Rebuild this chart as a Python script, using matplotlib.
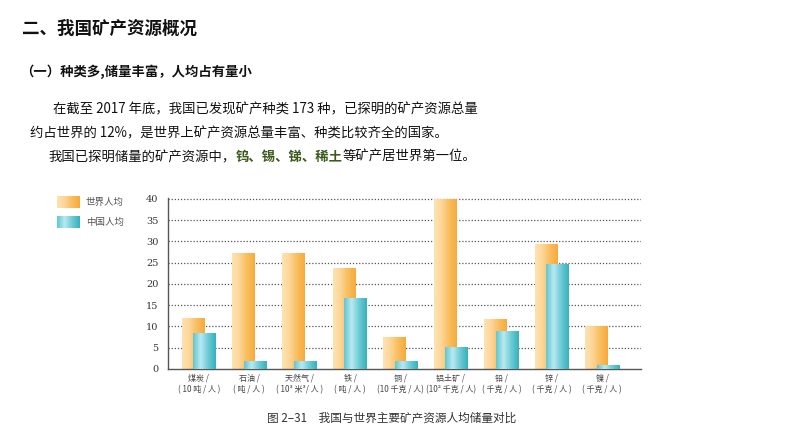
import numpy as np
import matplotlib.pyplot as plt
from matplotlib.colors import LinearSegmentedColormap

plt.rcParams['font.family'] = ['Noto Sans CJK SC', 'DejaVu Sans']

# data
minerals = ['煤炭 /', '石油 /', '天然气 /', '铁 /', '铜 /', '铝土矿 /', '铅 /', '锌 /', '镍 /']
units = ['( 10 吨 / 人 )', '( 吨 / 人 )', '( 10³ 米³/ 人 )', '( 吨 / 人 )', '(10 千克 / 人)',
         '(10² 千克 / 人)', '( 千克 / 人 )', '( 千克 / 人 )', '( 千克 / 人 )']
world = [12.0, 27.4, 27.4, 23.8, 7.6, 40.0, 11.7, 29.3, 10.2]
china = [8.5, 1.9, 1.9, 16.6, 1.9, 5.2, 8.9, 24.7, 0.9]
yticks = [0, 5, 10, 15, 20, 25, 30, 35, 40]

W, H = 794, 447
fig = plt.figure(figsize=(W / 100, H / 100), dpi=100)
fig.patch.set_facecolor('white')

def fx(x):
    return x / W

def fy(y):
    return 1 - y / H

orange = LinearSegmentedColormap.from_list('o', ['#fde3b2', '#fdd596', '#f9bd5c', '#f6aa3c'])
cyan = LinearSegmentedColormap.from_list('c', ['#62c6d0', '#b8e9f1', '#6ccbd5', '#36b1bc'])
grad = np.linspace(0, 1, 64).reshape(1, -1)

# chart area
ax = fig.add_axes([fx(168), fy(369), (641 - 168) / W, 171.5 / H])
x = np.arange(len(minerals))
w = 0.45
b1 = ax.bar(x - 0.115, world, w, color='#f8b54d', zorder=2)
b2 = ax.bar(x + 0.115, china, w, color='#4fc0ca', zorder=3)
for bars, cm, z in [(b1, orange, 2), (b2, cyan, 3)]:
    for r in bars:
        x0, y0 = r.get_x(), r.get_y()
        im = ax.imshow(grad, cmap=cm, aspect='auto', zorder=z + 0.5,
                       extent=[x0, x0 + r.get_width(), y0, y0 + r.get_height()])
        im.set_clip_path(r)

ax.set_xlim(-0.61, 8.77)
ax.set_ylim(0, 40.35)
ax.set_yticks(yticks)
ax.set_yticklabels([str(v) for v in yticks], family='DejaVu Serif', fontsize=7, color='#333333')
ax.tick_params(axis='y', length=0, pad=7)
ax.set_xticks(x)
ax.set_xticklabels([m + '\n' + u for m, u in zip(minerals, units)],
                   fontsize=5.8, color='#444444', linespacing=1.4)
ax.tick_params(axis='x', length=0, pad=3)
for v in yticks[1:]:
    ax.axhline(v, color='#555555', lw=0.9, ls=(0, (1, 1.5)), zorder=1)
for s in ['top', 'right']:
    ax.spines[s].set_visible(False)
for s in ['left', 'bottom']:
    ax.spines[s].set_color('#555555')
    ax.spines[s].set_linewidth(1.0)

# legend swatches
for yy, cm, lab in [(196, orange, '世界人均'), (216, cyan, '中国人均')]:
    la = fig.add_axes([fx(57), fy(yy + 12.5), 23 / W, 12.5 / H])
    la.imshow(grad, cmap=cm, aspect='auto')
    la.axis('off')
    fig.text(fx(86), fy(yy + 6), lab, fontsize=6.8, color='#555555', va='center')

# headings and paragraph
fig.text(fx(22), fy(29), '二、我国矿产资源概况', fontsize=12.6, weight='bold',
         color='#111111', va='center')
fig.text(fx(20), fy(72), '（一）种类多,储量丰富，人均占有量小', fontsize=9.6, weight='bold',
         color='#111111', va='center')
fig.text(fx(53), fy(109), '在截至 2017 年底，我国已发现矿产种类 173 种，已探明的矿产资源总量',
         fontsize=9.6, color='#111111', va='center')
fig.text(fx(30), fy(133), '约占世界的 12%，是世界上矿产资源总量丰富、种类比较齐全的国家。',
         fontsize=9.6, color='#111111', va='center')

fig.canvas.draw()
rend = fig.canvas.get_renderer()
xpos = 48
for seg, col, wt in [('我国已探明储量的矿产资源中，', '#111111', 'normal'),
                     ('钨、锡、锑、稀土', '#3c5a1c', 'bold'),
                     ('等矿产居世界第一位。', '#111111', 'normal')]:
    t = fig.text(fx(xpos), fy(157), seg, fontsize=9.6, color=col, weight=wt, va='center')
    xpos += t.get_window_extent(rend).width

fig.text(fx(392), fy(418), '图 2–31　我国与世界主要矿产资源人均储量对比', fontsize=8.4,
         color='#333333', ha='center', va='center')

fig.savefig('out.png', dpi=100)
